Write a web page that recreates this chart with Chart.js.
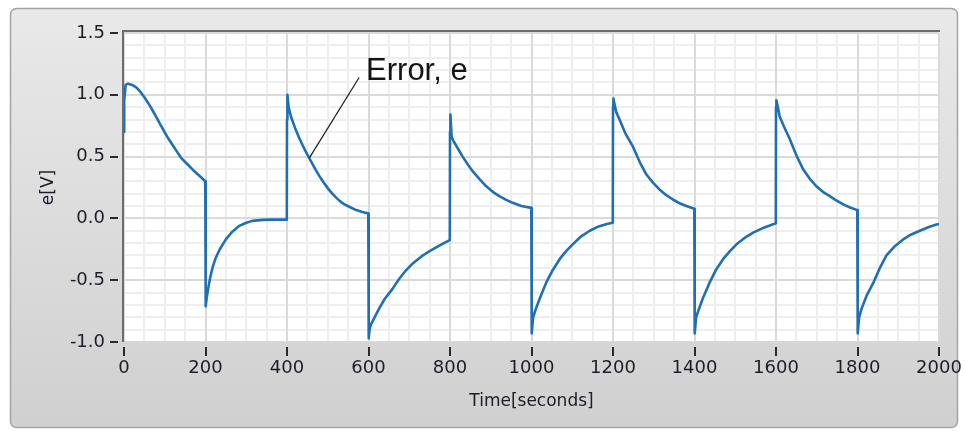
<!DOCTYPE html>
<html>
<head>
<meta charset="utf-8">
<script src="https://cdn.jsdelivr.net/npm/chart.js@4.4.1/dist/chart.umd.min.js"></script>
<style>
  html, body { margin: 0; padding: 0; background: #ffffff; }
  #wrap { width: 965px; height: 431px; position: relative; }
</style>
</head>
<body>
<div id="wrap"><canvas id="c"></canvas></div>
<script>
// Error signal e [V] sampled over time [s]
const timeSec = [
  0, 0.5, 4, 10, 20, 30, 40, 50, 60, 70, 80, 90, 100, 110, 120, 130, 140, 155, 170, 185, 199.5,
  200, 201, 203, 207, 212, 218, 225, 235, 250, 265, 283, 300, 315, 340, 360, 380, 399.5,
  400, 401, 404, 410, 420, 430, 440, 450, 460, 470, 480, 490, 500, 510, 520, 530, 540, 555, 570, 585, 599.5,
  600, 601, 603, 606, 615, 626, 640, 659, 675, 692, 710, 733, 750, 766, 785, 799.5,
  800, 801, 804, 808, 815, 831, 845, 856, 872, 889, 905, 921, 938, 954, 975, 999.5,
  1000, 1001, 1004, 1011, 1020, 1036, 1050, 1069, 1085, 1101, 1120, 1143, 1165, 1185, 1199.5,
  1200, 1201, 1204, 1208, 1216, 1230, 1249, 1265, 1282, 1298, 1314, 1330, 1347, 1365, 1380, 1399.5,
  1400, 1401, 1404, 1408, 1420, 1437, 1452, 1470, 1487, 1503, 1522, 1544, 1570, 1599.5,
  1600, 1601, 1604, 1609, 1620, 1634, 1650, 1667, 1683, 1699, 1715, 1732, 1748, 1765, 1782, 1799.5,
  1800, 1801, 1804, 1810, 1823, 1839, 1855, 1871, 1890, 1912, 1932, 1953, 1975, 1994, 2000
];
const errorV = [
  0.70, 0.95, 1.08, 1.09, 1.08, 1.06, 1.025, 0.98, 0.93, 0.875, 0.815, 0.755, 0.695, 0.64, 0.59, 0.54, 0.49, 0.44, 0.39, 0.345, 0.30,
  -0.62, -0.71, -0.64, -0.56, -0.47, -0.39, -0.32, -0.25, -0.17, -0.11, -0.06, -0.035, -0.02, -0.012, -0.01, -0.01, -0.01,
  0.80, 1.00, 0.90, 0.82, 0.73, 0.65, 0.58, 0.515, 0.455, 0.395, 0.34, 0.29, 0.245, 0.205, 0.17, 0.14, 0.115, 0.09, 0.067, 0.052, 0.04,
  -0.88, -0.97, -0.89, -0.86, -0.80, -0.73, -0.65, -0.57, -0.49, -0.42, -0.36, -0.30, -0.265, -0.235, -0.20, -0.175,
  0.70, 0.84, 0.66, 0.63, 0.59, 0.50, 0.43, 0.38, 0.32, 0.26, 0.215, 0.18, 0.15, 0.126, 0.10, 0.085,
  -0.85, -0.93, -0.80, -0.73, -0.65, -0.52, -0.43, -0.33, -0.265, -0.21, -0.15, -0.10, -0.065, -0.045, -0.035,
  0.90, 0.97, 0.92, 0.86, 0.80, 0.69, 0.58, 0.46, 0.355, 0.29, 0.234, 0.19, 0.153, 0.12, 0.10, 0.078,
  -0.85, -0.93, -0.80, -0.76, -0.65, -0.52, -0.42, -0.33, -0.265, -0.21, -0.16, -0.115, -0.075, -0.04,
  0.90, 0.955, 0.91, 0.825, 0.74, 0.64, 0.51, 0.395, 0.32, 0.26, 0.215, 0.18, 0.145, 0.113, 0.088, 0.067,
  -0.85, -0.93, -0.80, -0.73, -0.62, -0.52, -0.40, -0.30, -0.23, -0.17, -0.13, -0.10, -0.07, -0.05, -0.045
];

// Axis tick labels
const xTickValues = [0, 200, 400, 600, 800, 1000, 1200, 1400, 1600, 1800, 2000];
const yTickValues = [-1.0, -0.5, 0.0, 0.5, 1.0, 1.5];
const xMinorStep = 50;
const yMinorStep = 0.1;

// Callout label for the curve
const calloutText = 'Error, e';
const calloutFrom = { t: 455, v: 0.49 };
const calloutTo = { t: 577, v: 1.14 };
const calloutTextAt = { t: 594, v: 1.12 };

const points = timeSec.map((t, i) => ({ x: t, y: errorV[i] }));

const TICK_FONT = { family: 'DejaVu Sans', size: 18 };
const TICK_COLOR = '#1d1d28';

function roundRect(ctx, x, y, w, h, r) {
  ctx.beginPath();
  ctx.moveTo(x + r, y);
  ctx.lineTo(x + w - r, y);
  ctx.arcTo(x + w, y, x + w, y + r, r);
  ctx.lineTo(x + w, y + h - r);
  ctx.arcTo(x + w, y + h, x + w - r, y + h, r);
  ctx.lineTo(x + r, y + h);
  ctx.arcTo(x, y + h, x, y + h - r, r);
  ctx.lineTo(x, y + r);
  ctx.arcTo(x, y, x + r, y, r);
  ctx.closePath();
}

// Panel, plot frame, grid and tick marks
const framePlugin = {
  id: 'frame',
  beforeDraw(chart) {
    const { ctx, chartArea: ca, scales } = chart;
    const xs = scales.x, ys = scales.y;
    ctx.save();
    ctx.fillStyle = '#ffffff';
    ctx.fillRect(0, 0, chart.width, chart.height);

    const g = ctx.createLinearGradient(0, 8, 0, 428);
    g.addColorStop(0, '#e9e9e9');
    g.addColorStop(1, '#d0d0d0');
    roundRect(ctx, 10.5, 8.5, 947, 419, 6);
    ctx.fillStyle = g;
    ctx.fill();
    ctx.strokeStyle = '#a4a4a4';
    ctx.lineWidth = 1.5;
    ctx.stroke();

    // plot background
    ctx.fillStyle = '#ffffff';
    ctx.fillRect(ca.left - 2, ca.top - 3, ca.right - ca.left + 3, ca.bottom - ca.top + 3);

    ctx.beginPath();
    ctx.rect(ca.left - 1, ca.top - 2, ca.right - ca.left + 2, ca.bottom - ca.top + 2);
    ctx.clip();

    // minor grid
    ctx.strokeStyle = '#eeeeee';
    ctx.lineWidth = 2;
    ctx.beginPath();
    for (let t = xs.min; t <= xs.max + 1e-9; t += xMinorStep) {
      const px = Math.round(xs.getPixelForValue(t));
      ctx.moveTo(px, ca.top); ctx.lineTo(px, ca.bottom);
    }
    for (let k = 0; ys.min + k * yMinorStep <= ys.max + 1e-9; k++) {
      const py = Math.round(ys.getPixelForValue(ys.min + k * yMinorStep));
      ctx.moveTo(ca.left, py); ctx.lineTo(ca.right, py);
    }
    ctx.stroke();

    // major grid
    ctx.strokeStyle = '#dadada';
    ctx.beginPath();
    xTickValues.forEach(t => {
      const px = Math.round(xs.getPixelForValue(t));
      ctx.moveTo(px, ca.top); ctx.lineTo(px, ca.bottom);
    });
    yTickValues.forEach(v => {
      const py = Math.round(ys.getPixelForValue(v));
      ctx.moveTo(ca.left, py); ctx.lineTo(ca.right, py);
    });
    ctx.stroke();
    ctx.restore();

    ctx.save();
    // frame edges on top and left
    ctx.strokeStyle = '#6c6c6c';
    ctx.lineWidth = 2;
    ctx.beginPath();
    ctx.moveTo(ca.left - 1, ca.bottom);
    ctx.lineTo(ca.left - 1, ca.top - 2);
    ctx.lineTo(ca.right + 1, ca.top - 2);
    ctx.stroke();

    // tick marks
    ctx.strokeStyle = '#2a2a2a';
    ctx.lineWidth = 2;
    ctx.beginPath();
    yTickValues.forEach(v => {
      const py = Math.round(ys.getPixelForValue(v));
      ctx.moveTo(ca.left - 14, py); ctx.lineTo(ca.left - 6, py);
    });
    xTickValues.forEach(t => {
      const px = Math.round(xs.getPixelForValue(t));
      ctx.moveTo(px, ca.bottom + 5); ctx.lineTo(px, ca.bottom + 14);
    });
    ctx.stroke();
    ctx.restore();
  }
};

// Leader line and text naming the curve
const calloutPlugin = {
  id: 'callout',
  afterDatasetsDraw(chart) {
    const { ctx, scales } = chart;
    const xs = scales.x, ys = scales.y;
    ctx.save();
    ctx.strokeStyle = '#1a1a1a';
    ctx.lineWidth = 1.2;
    ctx.beginPath();
    ctx.moveTo(xs.getPixelForValue(calloutFrom.t), ys.getPixelForValue(calloutFrom.v));
    ctx.lineTo(xs.getPixelForValue(calloutTo.t), ys.getPixelForValue(calloutTo.v));
    ctx.stroke();
    ctx.fillStyle = '#141414';
    ctx.font = '31px "Liberation Sans", Arial, sans-serif';
    ctx.textAlign = 'left';
    ctx.textBaseline = 'alphabetic';
    ctx.fillText(calloutText, xs.getPixelForValue(calloutTextAt.t), ys.getPixelForValue(calloutTextAt.v));
    ctx.restore();
  }
};

new Chart(document.getElementById('c'), {
  type: 'line',
  data: {
    datasets: [{
      label: 'e',
      data: points,
      borderColor: '#1f6fb2',
      borderWidth: 2.6,
      borderJoinStyle: 'round',
      pointRadius: 0,
      fill: false,
      tension: 0
    }]
  },
  options: {
    responsive: true,
    maintainAspectRatio: false,
    animation: false,
    events: [],
    layout: { padding: { left: 0, top: 33, right: 26, bottom: 0 } },
    plugins: { legend: { display: false }, tooltip: { enabled: false } },
    scales: {
      x: {
        type: 'linear',
        min: 0, max: 2000,
        afterBuildTicks: s => { s.ticks = xTickValues.map(v => ({ value: v })); },
        afterFit: s => { s.height = 89; s.paddingLeft = 0; s.paddingRight = 0; },
        grid: { display: false, drawTicks: false, tickLength: 0 },
        border: { display: false },
        ticks: {
          padding: 16, maxRotation: 0, autoSkip: false,
          font: TICK_FONT, color: TICK_COLOR,
          callback: v => String(v)
        },
        title: {
          display: true, text: 'Time[seconds]',
          font: { family: 'DejaVu Sans', size: 17 }, color: TICK_COLOR,
          padding: { top: 0, bottom: 19 }
        }
      },
      y: {
        type: 'linear',
        min: -1, max: 1.5,
        afterBuildTicks: s => { s.ticks = yTickValues.map(v => ({ value: v })); },
        afterFit: s => { s.width = 124; s.paddingTop = 0; s.paddingBottom = 0; },
        grid: { display: false, drawTicks: false, tickLength: 0 },
        border: { display: false },
        ticks: {
          padding: 19, autoSkip: false,
          font: TICK_FONT, color: TICK_COLOR,
          callback: v => (Math.abs(v) < 1e-9 ? 0 : v).toFixed(1)
        },
        title: {
          display: true, text: 'e[V]',
          font: { family: 'DejaVu Sans', size: 17 }, color: TICK_COLOR,
          padding: { top: 38, bottom: 0 }
        }
      }
    }
  },
  plugins: [framePlugin, calloutPlugin]
});
</script>
</body>
</html>
